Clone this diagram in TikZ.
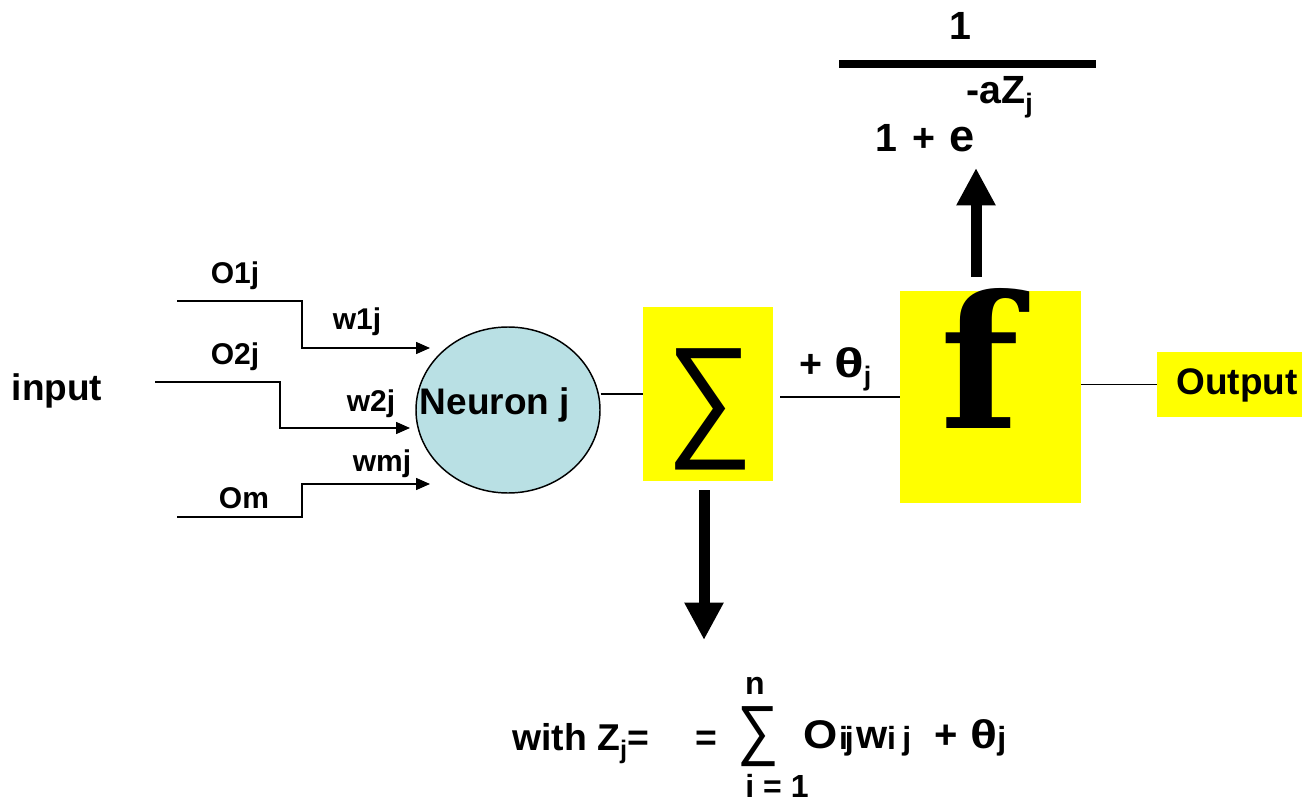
\documentclass[tikz,border=0pt]{standalone}
\usepackage{fontspec}
\newfontfamily\arial{Liberation Sans}
\newfontfamily\dvserif{DejaVu Serif}
\usetikzlibrary{arrows.meta,shapes.geometric,calc}
\definecolor{neuronblue}{RGB}{185,224,228}
\definecolor{boxyellow}{RGB}{255,255,0}
\newcommand\lsub[1]{\raisebox{-0.22em}{\scalebox{0.68}{#1}}}
\newcommand\bsub[1]{\raisebox{-0.03em}{\scalebox{0.8}{#1}}}
\newcommand\wtheta{\scalebox{1.4}[1.05]{θ}}
\begin{document}
\begin{tikzpicture}[x=0.75pt,y=-0.75pt,
  lbl/.style={font=\arial\bfseries\fontsize{22.5pt}{24pt}\selectfont, inner sep=0pt},
  biglbl/.style={font=\arial\bfseries\fontsize{27.75pt}{30pt}\selectfont, inner sep=0pt},
  formula/.style={font=\arial\bfseries\fontsize{29.5pt}{31pt}\selectfont, inner sep=0pt},
  bot/.style={font=\arial\bfseries\fontsize{28pt}{30pt}\selectfont, inner sep=0pt},
  botbig/.style={font=\arial\bfseries\fontsize{30pt}{32pt}\selectfont, inner sep=0pt},
  botsmall/.style={font=\arial\bfseries\fontsize{24pt}{26pt}\selectfont, inner sep=0pt},
  ybox/.style={rectangle, fill=boxyellow, draw=none, inner sep=0pt},
  wire/.style={line width=1.1pt},
  inarrow/.style={wire, -{Triangle[length=10.5pt,width=9pt]}},
  bigarrow/.style={line width=8.25pt, -{Triangle[length=28pt,width=27.5pt]}}
]
\useasboundingbox (0,0) rectangle (1302,802);

% neuron
\node[ellipse, draw, wire, fill=neuronblue, minimum width=138pt, minimum height=124.5pt, inner sep=0pt] (neuron) at (508,410) {};
\node[biglbl] (neuronlbl) at (495,405) {Neuron j};

% summation box
\node[ybox, minimum width=97.5pt, minimum height=130.5pt] (sumbox) at (708,394) {};
\node[inner sep=0pt] (sumsym) at (710,409) {\resizebox*{65pt}{91pt}{\arial ∑}};

% f box
\node[ybox, minimum width=135.75pt, minimum height=159pt] (fbox) at (990.5,397) {};
\node[inner sep=0pt] (fsym) at (980,358) {\resizebox*{!}{105pt}{\dvserif\bfseries f}};

% output box
\node[ybox, minimum width=108.75pt, minimum height=48.75pt] (outbox) at (1229.5,384.5) {};
\node[biglbl] (outlbl) at (1237,385) {Output};

% connecting lines
\draw[wire] (neuron.east |- sumbox.west) -- (sumbox.west);
\draw[wire] ([xshift=5.25pt]fbox.west -| sumbox.east) -- (fbox.west);
\draw[wire] (fbox.east |- outbox.west) -- (outbox.west);

% inputs
\coordinate (in1) at (177,301);
\coordinate (tip1) at (430,348);
\coordinate (in2) at (155,382);
\coordinate (tip2) at (410,428);
\coordinate (in3) at (177,517);
\coordinate (tip3) at (430,484);
\draw[inarrow] (in1) -- ++(125,0) |- (tip1);
\draw[inarrow] (in2) -- ++(125,0) |- (tip2);
\draw[inarrow] (in3) -- ++(125,0) |- (tip3);

\node[biglbl] (input) at (57,391) {input};
\node[lbl] (o1) at (235,276) {O1j};
\node[lbl] (w1) at (357,322) {w1j};
\node[lbl] (o2) at (235,357) {O2j};
\node[lbl] (w2) at (371,404) {w2j};
\node[lbl] (wm) at (382,464) {wmj};
\node[lbl] (om) at (244,498) {Om};

% theta
\node[formula, anchor=base west] (theta) at (799,377) {+\hspace{0.3em}\wtheta\lsub{j}};

% big arrows
\coordinate (upbot) at (976,277);
\coordinate (uptop) at (976,168);
\draw[bigarrow] (upbot) -- (uptop);
\coordinate (dntop) at (704,490);
\coordinate (dnbot) at (704,640);
\draw[bigarrow] (dntop) -- (dnbot);

% sigmoid formula
\node[formula, anchor=base] (num) at (960,40) {1};
\coordinate (barl) at (839,64);
\coordinate (barr) at (1096,64);
\draw[line width=5.5pt] (barl) -- (barr);
\node[formula, anchor=base west] (den) at (875,152) {1\hspace{0.4em}+\hspace{0.35em}\scalebox{1.15}{e}};
\node[formula, anchor=base west] (expo) at (966,104) {-aZ\lsub{j}};

% bottom formula
\node[bot, anchor=base west] (with) at (512,750) {with Z\lsub{j}=};
\node[bot, anchor=base west] (eq) at (695,750) {=};
\node[inner sep=0pt] (bsum) at (758,737) {\resizebox*{31pt}{45pt}{\arial ∑}};
\node[botsmall, anchor=base] (ntop) at (755,694) {n};
\node[botsmall, anchor=base] (ibot) at (777,797) {i = 1};
\node[botbig, anchor=base west] (rest) at (803,748) {\scalebox{1.1}[1]{O}\kern0.04em\bsub{i\kern-0.1em j}\kern0.06em w\bsub{i\kern0.2em j}};
\node[botbig, anchor=base west] (plus2) at (934,748) {+};
\node[botbig, anchor=base west] (theta2) at (970,748) {\scalebox{1.25}[1]{θ}\bsub{j}};
\end{tikzpicture}
\end{document}
